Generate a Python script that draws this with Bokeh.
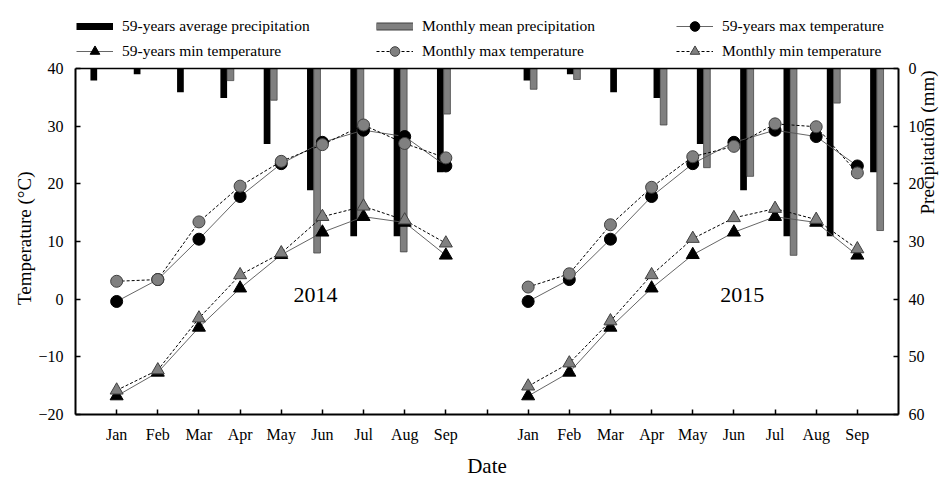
import math
from bokeh.plotting import figure
from bokeh.models import (Range1d, LinearAxis, FixedTicker, Legend, LegendItem, Label, Span)
from bokeh.embed import file_html
from bokeh.resources import INLINE

# ---------------- data ----------------
months = ["Jan", "Feb", "Mar", "Apr", "May", "Jun", "Jul", "Aug", "Sep"]
years = ["2014", "2015"]

# precipitation (mm), drawn downward from the top on the right axis
precip_59yr = [2.1, 1.0, 4.1, 5.1, 13.1, 21.1, 29.1, 29.1, 18.0]
precip_2014 = [0.0, 0.0, 0.0, 2.1, 5.5, 32.0, 26.3, 31.8, 7.9]
precip_2015 = [3.6, 1.9, 0.0, 9.8, 17.2, 18.7, 32.4, 6.0, 28.1]

# temperature (deg C)
tmax_59yr = [-0.4, 3.4, 10.4, 17.8, 23.5, 27.2, 29.3, 28.2, 23.1]
tmin_59yr = [-16.8, -12.7, -4.9, 1.9, 7.7, 11.6, 14.3, 13.3, 7.6]
tmax_2014 = [3.1, 3.4, 13.4, 19.6, 23.9, 26.8, 30.2, 27.0, 24.5]
tmin_2014 = [-15.8, -12.3, -3.3, 4.2, 8.0, 14.3, 16.1, 13.7, 9.7]
tmax_2015 = [2.1, 4.4, 12.9, 19.4, 24.7, 26.5, 30.4, 29.9, 21.9]
tmin_2015 = [-15.1, -11.1, -3.8, 4.2, 10.5, 14.1, 15.7, 13.8, 8.7]

temp_ticks = [-20, -10, 0, 10, 20, 30, 40]
precip_ticks = [0, 10, 20, 30, 40, 50, 60]

legend_labels = ["59-years average precipitation", "Monthly mean precipitation",
                 "59-years max temperature", "59-years min temperature",
                 "Monthly max temperature", "Monthly min temperature"]

FONT = "Liberation Serif"
GRAY = "#808080"
DARK = "#404040"
SOLID = "#555555"
NBSP = "\u00a0"

# ---------------- geometry ----------------
W, H = 951, 481
LEFT, RIGHT, TOP, BOTTOM = 75, 52, 14, 67          # frame borders (frame includes legend band)
PLOT_TOP = 68                                      # pixel row of the 40 degC / 0 mm line
LEGEND_H = 49
t_lo, t_hi = temp_ticks[0], temp_ticks[-1]
p_lo, p_hi = precip_ticks[0], precip_ticks[-1]
px_per_unit = (H - BOTTOM - PLOT_TOP) / (t_hi - t_lo)
extra_units = (PLOT_TOP - TOP) / px_per_unit       # legend band above the plot area

p = figure(width=W, height=H, x_range=Range1d(0, 20),
           y_range=Range1d(t_lo, t_hi + extra_units),
           output_backend="svg", toolbar_location=None,
           min_border_left=LEFT, min_border_right=RIGHT, min_border_top=TOP,
           min_border_bottom=BOTTOM)
p.extra_y_ranges = {"precip": Range1d(p_hi, p_lo - extra_units * (p_hi - p_lo) / (t_hi - t_lo))}
p.extra_x_ranges = {"slots": Range1d(0, 19)}
p.grid.visible = False
p.outline_line_color = None
p.background_fill_color = "white"
p.border_fill_color = "white"

# top border of the plot area
p.add_layout(Span(location=t_hi, dimension="width", line_color="black", line_width=1.5))

n_per_year = len(months)
step = n_per_year + 1  # one empty slot between the two years

xticks = list(range(1, 2 * step))
overrides = {t: "" for t in xticks}
for k in range(len(years)):
    for i, m in enumerate(months):
        overrides[1 + i + step * k] = m
xax = p.xaxis[0]
xax.ticker = FixedTicker(ticks=xticks)
xax.major_label_overrides = overrides
xax.axis_label = "Date"
xax.major_label_standoff = 11
xax.axis_label_standoff = 8
xax.axis_label_text_font_size = "21px"

# the left title is padded with trailing no-break spaces so that it centres on the
# plot area (40 .. -20) rather than on the taller frame that also holds the legend
yax = p.yaxis[0]
yax.ticker = FixedTicker(ticks=temp_ticks)
yax.bounds = (t_lo, t_hi)
yax.major_label_standoff = 12
yax.axis_label = "Temperature (°C)" + NBSP * 10
yax.axis_label_standoff = 0
yax.axis_label_text_font_size = "19px"

rax = LinearAxis(y_range_name="precip", ticker=FixedTicker(ticks=precip_ticks), bounds=(p_lo, p_hi))
rax.major_label_standoff = 10
rax.axis_label = "Precipitation (mm)"
rax.axis_label_standoff = 0
rax.axis_label_text_font_size = "19px"
try:
    rax.axis_label_orientation = math.pi / 2   # read bottom-to-top, like the original
except Exception:
    pass
p.add_layout(rax, "right")

for ax in (xax, yax, rax):
    ax.major_tick_in = 5
    ax.major_tick_out = 0
    ax.minor_tick_line_color = None
    ax.axis_line_width = 2
    ax.major_tick_line_width = 1.5
    ax.major_label_text_font = FONT
    ax.major_label_text_font_size = "16px"
    ax.major_label_text_color = "black"
    ax.axis_label_text_font = FONT
    ax.axis_label_text_font_style = "normal"
    ax.axis_label_text_color = "black"

# bars
bw = 0.155
for k, vals in enumerate([precip_2014, precip_2015]):
    centers = [i + step * k + 0.5 for i in range(n_per_year)]
    p.vbar(x=[c - bw / 2 for c in centers], width=bw, top=[0] * n_per_year, bottom=precip_59yr,
           x_range_name="slots", y_range_name="precip", fill_color="black", line_color=None)
    p.vbar(x=[c + bw / 2 for c in centers], width=bw, top=[0] * n_per_year, bottom=vals,
           x_range_name="slots", y_range_name="precip", fill_color=GRAY,
           line_color=DARK, line_width=0.75)

# temperature lines
rend = {}
for k, (tmax, tmin) in enumerate([(tmax_2014, tmin_2014), (tmax_2015, tmin_2015)]):
    xs = [1 + i + step * k for i in range(n_per_year)]
    l1 = p.line(xs, tmax_59yr, line_color=SOLID, line_width=0.9)
    s1 = p.scatter(xs, tmax_59yr, marker="circle", size=12, fill_color="black", line_color="black")
    l2 = p.line(xs, tmin_59yr, line_color=SOLID, line_width=0.9)
    s2 = p.scatter(xs, tmin_59yr, marker="triangle", size=13, fill_color="black", line_color="black")
    l3 = p.line(xs, tmax, line_color="black", line_width=1, line_dash="3 2")
    s3 = p.scatter(xs, tmax, marker="circle", size=12, fill_color=GRAY, line_color=DARK, line_width=1)
    l4 = p.line(xs, tmin, line_color="black", line_width=1, line_dash="3 2")
    s4 = p.scatter(xs, tmin, marker="triangle", size=13, fill_color=GRAY, line_color=DARK, line_width=1)
    if k == 0:
        rend = {"max59": [l1, s1], "min59": [l2, s2], "maxM": [l3, s3], "minM": [l4, s4]}

# legend swatches for the bars (NaN lines: nothing drawn in the plot)
nan = float("nan")
sw_black = p.line(x=[nan], y=[nan], line_color="black", line_width=7, line_cap="butt")
sw_gray_o = p.line(x=[nan], y=[nan], line_color=DARK, line_width=8, line_cap="butt")
sw_gray = p.line(x=[nan], y=[nan], line_color=GRAY, line_width=6, line_cap="butt")

items = [
    LegendItem(label=legend_labels[0], renderers=[sw_black]),
    LegendItem(label=legend_labels[1], renderers=[sw_gray_o, sw_gray]),
    LegendItem(label=legend_labels[2], renderers=rend["max59"]),
    LegendItem(label=legend_labels[3], renderers=rend["min59"]),
    LegendItem(label=legend_labels[4], renderers=rend["maxM"]),
    LegendItem(label=legend_labels[5], renderers=rend["minM"]),
]
legend = Legend(items=items, location=(1, H - BOTTOM - TOP - LEGEND_H), orientation="horizontal",
                ncols=3, glyph_width=37, glyph_height=24, label_width=253, label_height=24,
                label_standoff=9, spacing=1, padding=0, margin=0,
                border_line_color=None, background_fill_alpha=0,
                label_text_font=FONT, label_text_font_size="15.5px", label_text_color="black")
p.add_layout(legend)

# year labels
for txt, xc in zip(years, [5.83, 16.2]):
    p.add_layout(Label(x=xc, y=0.7, text=txt, text_align="center", text_baseline="middle",
                       text_font=FONT, text_font_size="22px", text_color="black"))

open("out.html", "w").write(file_html(p, INLINE))
